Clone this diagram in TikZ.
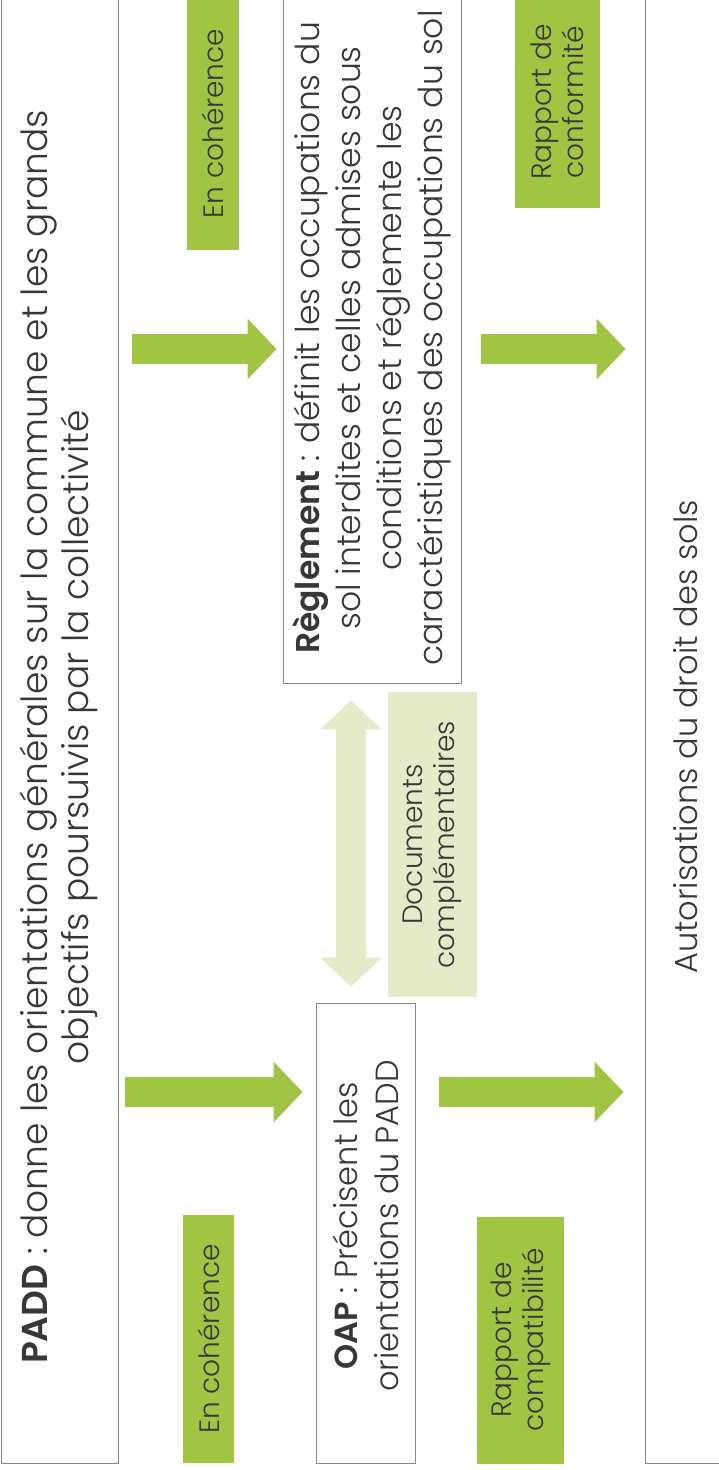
\documentclass[tikz,border=0pt]{standalone}
\usepackage{fontspec}
\setmainfont{Poppins Light}[BoldFont={Poppins SemiBold}]
\usetikzlibrary{calc, positioning}
\usetikzlibrary{arrows.meta}

\definecolor{padgreen}{RGB}{161,196,66}
\definecolor{palegreen}{RGB}{229,235,200}
\definecolor{boxgray}{RGB}{135,135,135}
\definecolor{inkgray}{RGB}{55,55,55}

\tikzset{
  frame/.style={draw=boxgray, line width=0.9pt, inner sep=0pt},
  body/.style={text=inkgray, align=center, inner sep=0pt, rotate=90, font=\fontsize{32}{41}\selectfont},
  tag/.style={fill=padgreen, text=inkgray, align=center, inner sep=0pt, rotate=90, font=\fontsize{28}{32}\selectfont},
  bigarrow/.style={line width=30pt, padgreen, -{Triangle[width=59pt, length=29pt]}},
  palearrow/.style={line width=30pt, palegreen, {Triangle[width=60pt, length=29pt]}-{Triangle[width=60pt, length=29pt]}}
}

\begin{document}
\begin{tikzpicture}[x=1pt, y=-1pt]
\def\rowTop{349}
\def\rowBot{1092}
\def\docX{351}

\useasboundingbox (0,0) rectangle (719,1470);
\clip (0,0) rectangle (719,1470);

% frames
\node[frame, minimum width=117pt, minimum height=1466pt] (padd) at (59.5,730) {};
\node[frame, minimum width=178pt, minimum height=686pt] (reg) at (372,340) {};
\node[frame, minimum width=99pt, minimum height=460pt] (oap) at (365.5,1233) {};
\node[frame, minimum width=90pt, minimum height=1466pt] (auto) at (690,730) {};

% texts
\node[body, font=\fontsize{36}{41}\selectfont] (padd-txt) at (59,737)
    {\textbf{PADD} : donne les orientations générales sur la commune et les grands\\
     objectifs poursuivis par la collectivité};
\node[body, font=\fontsize{33}{41}\selectfont] (reg-txt) at (372,338)
    {\textbf{Règlement} : définit les occupations du\\
     sol interdites et celles admises sous\\
     conditions et réglemente les\\
     caractéristiques des occupations du sol};
\node[body] (oap-txt) at (366,1226) {\textbf{OAP} : Précisent les\\ orientations du PADD};
\node[body] (auto-txt) at (686,737) {Autorisations du droit des sols};

% labels
\node[tag, minimum width=253pt, minimum height=52pt] (coh-top) at (213,123.5) {En cohérence};
\node[tag, minimum width=248pt, minimum height=51pt] (coh-bot) at (208.5,1339) {En cohérence};
\node[tag, minimum width=247pt, minimum height=87pt] (compat) at (520.5,1340) {Rapport de\\ compatibilité};
\node[tag, minimum width=211pt, minimum height=85pt] (conf) at (557.5,102) {Rapport de\\ conformité};
\node[tag, fill=palegreen, minimum width=305pt, minimum height=89pt] (docs) at (432.5,844.5) {Documents\\ complémentaires};

% arrows
\draw[bigarrow, shorten <=14pt, shorten >=6pt] (padd.east |- 0,\rowTop) -- (reg.west |- 0,\rowTop);
\draw[bigarrow, shorten <=7pt, shorten >=13pt] (padd.east |- 0,\rowBot) -- (oap.west |- 0,\rowBot);
\draw[bigarrow, shorten <=20pt, shorten >=19pt] (reg.east |- 0,\rowTop) -- (auto.west |- 0,\rowTop);
\draw[bigarrow, shorten <=24pt, shorten >=21pt] (oap.east |- 0,\rowBot) -- (auto.west |- 0,\rowBot);
\draw[palearrow, shorten <=17pt, shorten >=16pt] (reg.south -| \docX,0) -- (oap.north -| \docX,0);
\end{tikzpicture}
\end{document}
